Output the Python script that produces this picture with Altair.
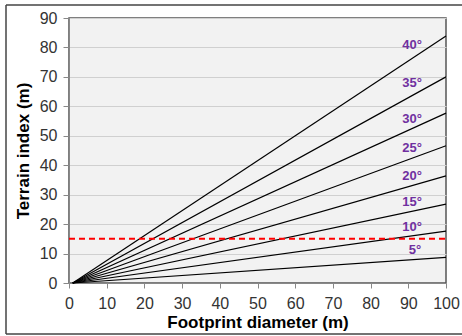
import altair as alt
import pandas as pd

# Data
angles = ["5°", "10°", "15°", "20°", "25°", "30°", "35°", "40°"]
start_diameter = 1
end_diameter = 100
end_index = [8.7, 17.6, 26.8, 36.4, 46.6, 57.7, 70.0, 83.9]
label_x = [91.8, 91, 91, 91, 91, 91, 91, 91]
label_y = [11.2, 19.1, 27.4, 36.3, 46.0, 55.7, 68.0, 80.8]
threshold = 15
x_ticks = list(range(0, 101, 10))
y_ticks = list(range(0, 91, 10))

rows = []
for a, e in zip(angles, end_index):
    rows.append({"angle": a, "d": start_diameter, "t": 0.0})
    rows.append({"angle": a, "d": end_diameter, "t": e})
lines_df = pd.DataFrame(rows)
labels_df = pd.DataFrame({"angle": angles, "x": label_x, "y": label_y})
thr_df = pd.DataFrame({"d": [0, 100], "t": [threshold, threshold]})

W, H = 377, 265

xscale = alt.Scale(domain=[0, 100], nice=False)
yscale = alt.Scale(domain=[0, 90], nice=False)

xaxis = alt.Axis(values=x_ticks, title="Footprint diameter (m)", grid=False,
                 tickSize=5, labelPadding=7, titlePadding=3, labelOverlap=False,
                 labelFlush=False)
yaxis = alt.Axis(values=y_ticks, title="Terrain index (m)", grid=True,
                 tickSize=6, labelPadding=6, titlePadding=7, labelOverlap=False,
                 labelFlush=False)

X = lambda f: alt.X(f, scale=xscale, axis=xaxis)
Y = lambda f: alt.Y(f, scale=yscale, axis=yaxis)

lines = alt.Chart(lines_df).mark_line(color="black", strokeWidth=1.2).encode(
    x=X("d:Q"), y=Y("t:Q"), detail="angle:N",
)

thr = alt.Chart(thr_df).mark_line(color="#ff0000", strokeWidth=2, strokeDash=[6, 4]).encode(
    x=X("d:Q"), y=Y("t:Q"),
)

labels = alt.Chart(labels_df).mark_text(
    color="#7030a0", fontWeight="bold", fontSize=13, font="Liberation Sans"
).encode(
    x=X("x:Q"), y=Y("y:Q"), text="angle:N",
)

frame_df = pd.DataFrame({"k": [0]})
frame_top = alt.Chart(frame_df).mark_rule(color="#444444", strokeWidth=1.5).encode(
    x=alt.value(-63), x2=alt.value(400), y=alt.value(-13))
frame_bottom = alt.Chart(frame_df).mark_rule(color="#444444", strokeWidth=1.5).encode(
    x=alt.value(-63), x2=alt.value(400), y=alt.value(316))
frame_left = alt.Chart(frame_df).mark_rule(color="#444444", strokeWidth=1.5).encode(
    x=alt.value(-63), y=alt.value(-13), y2=alt.value(316))

chart = alt.layer(lines, thr, labels, frame_top, frame_bottom, frame_left).properties(
    width=W, height=H,
    padding={"left": 69, "top": 18, "right": 16, "bottom": 53},
    autosize=alt.AutoSizeParams(type="none"),
    background="white",
).configure_view(
    fill="#f2f2f2", stroke="#555555", strokeWidth=1.5
).configure_axis(
    labelFont="Liberation Sans", labelFontSize=16, labelColor="#333333",
    titleFont="Liberation Sans", titleFontSize=17, titleFontWeight="bold", titleColor="black",
    domainColor="#888888", tickColor="#888888", gridColor="#d0d0d0", gridWidth=1,
)

chart.save("out.html", embed_options={"renderer": "svg", "actions": False})
